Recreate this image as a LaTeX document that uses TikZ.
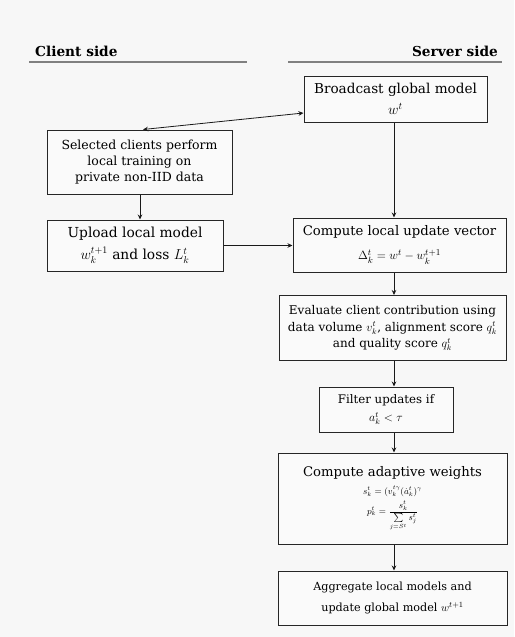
\documentclass[tikz,border=0pt]{standalone}
\usepackage{amsmath}
\usepackage{fontspec}
\setmainfont{DejaVu Serif}
\usetikzlibrary{arrows.meta}
\begin{document}
\begin{tikzpicture}[x=1pt,y=-1pt,
  box/.style={draw=black!85, line width=1pt, align=center, inner sep=0pt, fill=black!2},
  arr/.style={draw=black!90, line width=0.8pt, -{Stealth[length=5pt,width=4.5pt]}},
  darr/.style={draw=black!90, line width=0.8pt, {Stealth[length=5pt,width=4.5pt]}-{Stealth[length=5pt,width=4.5pt]}},
  hline/.style={draw=black!50, line width=1.4pt},
  head/.style={font=\fontsize{13.7}{16}\selectfont\bfseries, inner sep=0pt}]
\fill[black!3] (0,0) rectangle (514,637);
\useasboundingbox (0,0) rectangle (514,637);

% headers
\node[head, anchor=west] (client) at (35,51) {Client side};
\node[head, anchor=east] (server) at (498,51) {Server side};
\coordinate (l1) at (29,62); \coordinate (l2) at (247,62);
\coordinate (r1) at (288,62); \coordinate (r2) at (502,62);
\draw[hline] (l1) -- (l2);
\draw[hline] (r1) -- (r2);

% column coordinates
\coordinate (cx) at (394,0);
\coordinate (lx) at (140,0);

% nodes
\node[box, minimum width=183pt, minimum height=46pt, font=\fontsize{13.6}{21}\selectfont] (broadcast) at (395.5,99)
  {Broadcast global model\\ $w^t$};
\node[box, minimum width=185pt, minimum height=64pt, font=\fontsize{12.5}{16}\selectfont] (selected) at (139.5,162)
  {Selected clients perform\\ local training on\\ private non-IID data};
\node[box, minimum width=176pt, minimum height=51pt, font=\fontsize{13.8}{21.5}\selectfont] (upload) at (135,245.5)
  {Upload local model\\ $w_k^{t+1}$ and loss $L_k^t$};
\node[box, minimum width=213pt, minimum height=54pt, font=\fontsize{13.2}{24}\selectfont] (compute) at (399.5,245)
  {Compute local update vector\\ $\Delta_k^t = w^t - w_k^{t+1}$};
\node[box, minimum width=227pt, minimum height=65pt, font=\fontsize{12}{16.5}\selectfont] (evaluate) at (392.5,328)
  {Evaluate client contribution using\\ data volume $v_k^t$, alignment score $q_k^t$\\ and quality score $q_k^t$};
\node[box, minimum width=134pt, minimum height=45pt, font=\fontsize{11.8}{18.5}\selectfont] (filter) at (386,409.5)
  {Filter updates if\\ $a_k^t < \tau$};
\node[box, minimum width=229pt, minimum height=91pt, font=\fontsize{13.2}{15}\selectfont] (adaptive) at (392.5,498.5)
  {Compute adaptive weights\\[3pt]
   {\fontsize{9}{11}\selectfont $s_k^t = (v_k^{t\gamma}(\dot{a}_k^{t})^{\gamma}$}\\[3pt]
   {\fontsize{9}{11}\selectfont $p_k^t = \dfrac{s_k^t}{\sum\limits_{j = S^t} s_j^t}$}};
\node[box, minimum width=229pt, minimum height=54pt, font=\fontsize{11.2}{21}\selectfont] (aggregate) at (392.5,598)
  {Aggregate local models and\\ update global model $w^{t+1}$};

% connectors
\draw[darr] ([xshift=3.5pt]selected.north) -- ([yshift=-14pt]broadcast.west);
\draw[arr] (broadcast.south -| cx) -- (compute.north -| cx);
\draw[arr] (selected.south -| lx) -- (upload.north -| lx);
\draw[arr] (upload.east) -- (upload.east -| compute.west);
\draw[arr] (compute.south -| cx) -- (evaluate.north -| cx);
\draw[arr] (evaluate.south -| cx) -- (filter.north -| cx);
\draw[arr] (filter.south -| cx) -- (adaptive.north -| cx);
\draw[arr] (adaptive.south -| cx) -- (aggregate.north -| cx);
\end{tikzpicture}
\end{document}
